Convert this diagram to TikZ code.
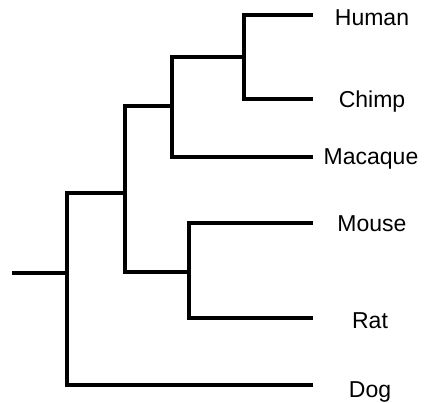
\documentclass[tikz,border=0pt]{standalone}
\usepackage{fontspec}
\setmainfont{Liberation Sans}
\begin{document}
\begin{tikzpicture}[x=1pt,y=1pt,
  branch/.style={line width=4.5pt,line join=miter,line cap=butt},
  leaf/.style={anchor=base,inner sep=0pt,font=\fontsize{23}{23}\selectfont}]
\useasboundingbox (0,0) rectangle (425,403);
% internal nodes
\coordinate (root) at (12,130);
\coordinate (n1) at (67,130);
\coordinate (n2) at (125,210);
\coordinate (n3) at (172,297);
\coordinate (n4) at (244,346);
\coordinate (n5) at (189,131);
% leaf ends
\coordinate (human) at (313,388);
\coordinate (chimp) at (313,304);
\coordinate (macaque) at (313,246);
\coordinate (mouse) at (313,180);
\coordinate (rat) at (313,85);
\coordinate (dog) at (313,18);
% branches
\draw[branch] (root) -- (n1);
\draw[branch] (n2) -| (n1) |- (dog);
\draw[branch] (n3) -| (n2) |- (n5);
\draw[branch] (n4) -| (n3) |- (macaque);
\draw[branch] (human) -| (n4) |- (chimp);
\draw[branch] (mouse) -| (n5) |- (rat);
% labels
\node[leaf] (lhuman) at (372,377.5) {Human};
\node[leaf] (lchimp) at (372,295) {Chimp};
\node[leaf] (lmacaque) at (371,238) {Macaque};
\node[leaf] (lmouse) at (372,171) {Mouse};
\node[leaf] (lrat) at (370,74) {Rat};
\node[leaf] (ldog) at (370,5.5) {Dog};
\end{tikzpicture}
\end{document}
